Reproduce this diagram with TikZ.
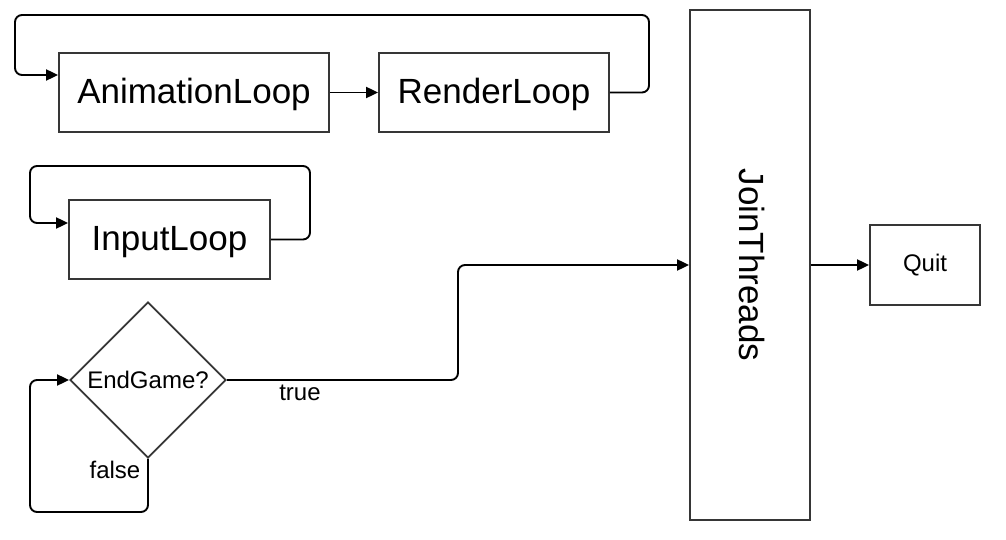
\documentclass[tikz,border=0pt]{standalone}
\usepackage{fontspec}
\setmainfont{Liberation Sans}
\usetikzlibrary{arrows.meta,shapes.geometric}
\definecolor{boxline}{HTML}{363636}
\tikzset{
  box/.style={draw=boxline, line width=1.8pt, rectangle, inner sep=0pt, font=\fontsize{35}{40}\selectfont},
  conn/.style={draw=black, line width=1.9pt, rounded corners=7pt, -{Triangle[length=12pt,width=11pt]}},
  lbl/.style={font=\fontsize{24}{28}\selectfont, inner sep=0pt}
}
\begin{document}
\begin{tikzpicture}[x=1pt,y=-1pt]
\useasboundingbox (0,0) rectangle (1006,540);
\node[box, minimum width=270pt, minimum height=79pt] (anim) at (194,92.5) {};
\node[font=\fontsize{35}{40}\selectfont, inner sep=0pt] (animtxt) at (194,94) {AnimationLoop};
\node[box, minimum width=230pt, minimum height=79pt] (render) at (494,92.5) {};
\node[font=\fontsize{35}{40}\selectfont, inner sep=0pt] (rendertxt) at (494,94) {RenderLoop};
\node[box, minimum width=201pt, minimum height=79pt] (input) at (169.5,239.5) {};
\node[font=\fontsize{35}{40}\selectfont, inner sep=0pt] (inputtxt) at (169.5,242) {InputLoop};
\node[draw=boxline, line width=1.8pt, diamond, minimum width=156pt, minimum height=156pt, inner sep=0pt, font=\fontsize{24}{28}\selectfont] (eg) at (148,380) {EndGame?};
\node[box, minimum width=120pt, minimum height=510pt] (join) at (750,265) {};
\node[font=\fontsize{35}{40}\selectfont, rotate=-90, inner sep=0pt] (jointxt) at (752,265) {JoinThreads};
\node[box, minimum width=110pt, minimum height=80pt, font=\fontsize{24}{28}\selectfont] (quit) at (925,265) {Quit};

\draw[conn] (anim.east) -- (render.west);
\draw[conn] (render.east) -- (649,92.5) -- (649,15) -- (15,15) -- (15,75) -- ([yshift=17.5pt]anim.west);
\draw[conn] (input.east) -- (310,239.5) -- (310,166) -- (30,166) -- (30,223) -- ([yshift=16.5pt]input.west);
\draw[conn] (eg.east) -- (458,380) -- (458,265) -- (join.west);
\draw[conn] (eg.south) -- (148,512) -- (30,512) -- (30,380) -- (eg.west);
\draw[conn] (join.east) -- (quit.west);

\node[lbl] (ltrue) at (300,393) {true};
\node[lbl] (lfalse) at (115,470) {false};
\end{tikzpicture}
\end{document}
